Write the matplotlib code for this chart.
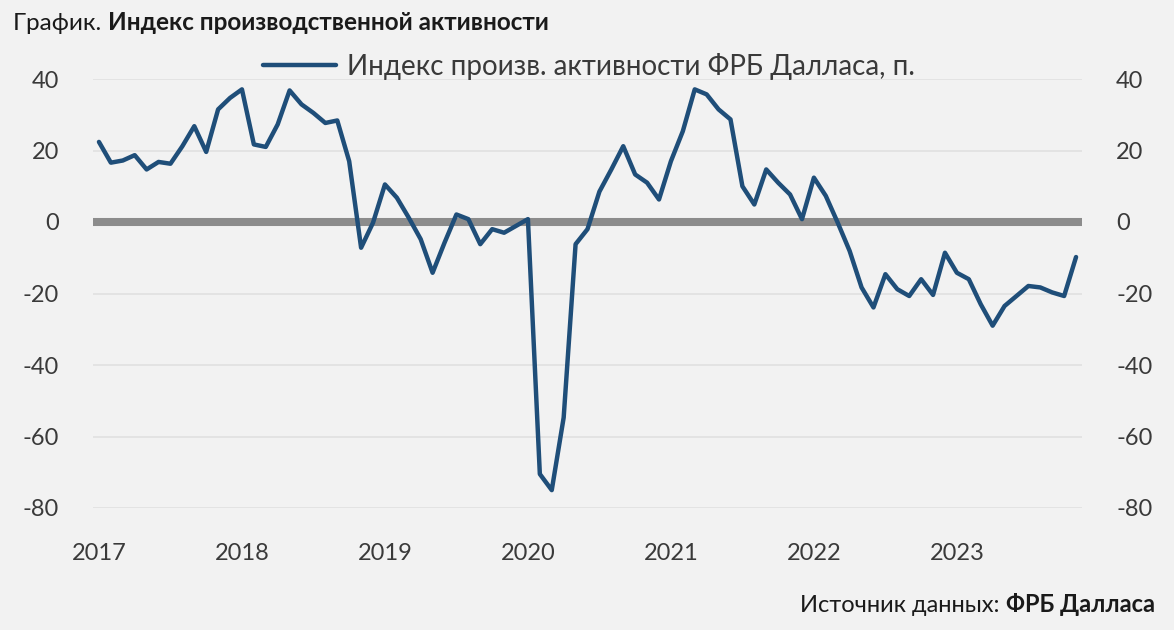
import numpy as np
import matplotlib.pyplot as plt

# ежемесячные значения, янв 2017 - ноя 2023
values = [22.4, 16.6, 17.2, 18.7, 14.7, 16.8, 16.3, 21.2, 26.8, 19.6, 31.5, 34.7,
          37.1, 21.7, 21.0, 27.3, 36.8, 32.9, 30.5, 27.7, 28.4, 17.0, -7.2, -0.2,
          10.5, 6.8, 1.2, -4.8, -14.2, -5.8, 2.1, 0.8, -6.2, -2.0, -3.0, -1.1,
          0.8, -70.5, -75.0, -54.7, -6.2, -2.0, 8.5, 14.7, 21.2, 13.3, 11.0, 6.3,
          17.0, 25.4, 37.1, 35.7, 31.5, 28.7, 10.0, 4.9, 14.7, 11.0, 7.7, 0.8,
          12.4, 7.3, -0.2, -8.1, -18.3, -23.9, -14.6, -18.8, -20.7, -16.0, -20.4, -8.6,
          -14.2, -16.0, -23.0, -29.0, -23.5, -20.7, -17.9, -18.3, -19.7, -20.7, -9.8]
years = ['2017', '2018', '2019', '2020', '2021', '2022', '2023']
yticks = [40, 20, 0, -20, -40, -60, -80]
series_name = 'Индекс произв. активности ФРБ Далласа, п.'

bg = '#f2f2f2'
txt = '#3a3a3a'
plt.rcParams['font.family'] = ['Lato', 'DejaVu Sans']

fig = plt.figure(figsize=(11.74, 6.30), dpi=100, facecolor=bg)
ax = fig.add_axes([93/1174, 1 - 508/630, (1082 - 93)/1174, (508 - 79)/630])
ax.set_facecolor(bg)

x = np.arange(len(values))
for v in yticks:
    if v != 0:
        ax.axhline(v, color='#e2e2e2', lw=1.3, zorder=1)
ax.axhline(0, color='#8c8c8c', lw=5.8, zorder=2)
ax.plot(x, values, color='#1f4e79', lw=3.2, solid_joinstyle='round',
        solid_capstyle='round', zorder=3, label=series_name)

ax.set_xlim(-0.5, len(values) - 0.5)
ax.set_ylim(-80, 40)
ax.set_yticks(yticks)
ax.set_yticklabels([str(v) for v in yticks])
ax.set_xticks([12 * k for k in range(len(years))])
ax.set_xticklabels(years)
ax.tick_params(axis='y', left=False, right=False, labelleft=True, labelright=True,
               pad=21, labelsize=17, labelcolor=txt)
ax.tick_params(axis='x', bottom=False, pad=22, labelsize=17, labelcolor=txt)
for s in ax.spines.values():
    s.set_visible(False)

leg = fig.legend(loc='center', bbox_to_anchor=(589/1174, 1 - 66/630), frameon=False,
                 fontsize=20, handlelength=2.6, handletextpad=0.4)
for t in leg.get_texts():
    t.set_color(txt)

# заголовок и источник: обычный + жирный текст
r = fig.canvas.get_renderer()
t1 = fig.text(13/1174, 1 - 23/630, 'График. ', fontsize=17.5, color='#1a1a1a', va='center')
bb = t1.get_window_extent(r)
fig.text(bb.x1/1174, 1 - 23/630, 'Индекс производственной активности', fontsize=17.5,
         fontweight='bold', color='#1a1a1a', va='center')

t2 = fig.text(1155/1174, 1 - 605/630, 'ФРБ Далласа', fontsize=17, fontweight='bold',
              color='#1a1a1a', va='center', ha='right')
bb2 = t2.get_window_extent(r)
fig.text(bb2.x0/1174, 1 - 605/630, 'Источник данных: ', fontsize=17, color='#1a1a1a',
         va='center', ha='right')

fig.savefig('out.png', dpi=100, facecolor=bg)
